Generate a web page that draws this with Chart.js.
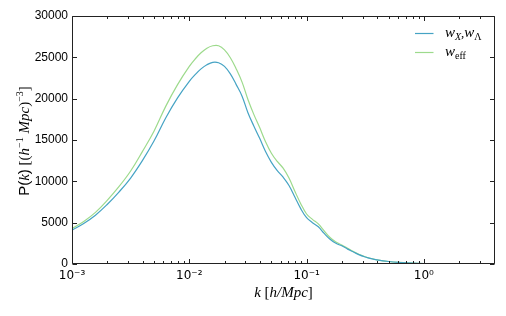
<!DOCTYPE html>
<html>
<head>
<meta charset="utf-8">
<script src="https://cdn.jsdelivr.net/npm/chart.js@4.4.1/dist/chart.umd.min.js"></script>
<style>
  html, body { margin: 0; padding: 0; background: #fff; }
  #c { display: block; }
</style>
</head>
<body>
<canvas id="c" width="506" height="316"></canvas>
<script>
// ---- data ----
const kValues = [0.001, 0.001259, 0.001585, 0.001995, 0.002512, 0.003162, 0.003981, 0.005012, 0.00631, 0.007943,
  0.01, 0.01122, 0.01259, 0.01413, 0.01585, 0.01778, 0.01995, 0.02239, 0.02512, 0.02818, 0.03162, 0.03548, 0.03981,
  0.04467, 0.05012, 0.05623, 0.0631, 0.07079, 0.07943, 0.08913,
  0.1, 0.1122, 0.1259, 0.1413, 0.1585, 0.1778, 0.1995, 0.2239, 0.2512, 0.2818, 0.3162, 0.3548, 0.3981,
  0.5012, 0.631, 0.7943, 1.0, 1.259, 1.585, 1.995, 2.512, 3.162, 3.981];
const pkWxWl = [4100, 4900, 5900, 7200, 8700, 10400, 12500, 14900, 17700, 20100,
  22100, 22900, 23600, 24100, 24400, 24350, 23900, 23000, 21700, 20300, 18300, 16700, 15200,
  13600, 12300, 11300, 10500, 9500, 8100, 6700,
  5600, 5000, 4500, 3700, 3000, 2500, 2200, 1800, 1450, 1100, 850, 650, 500,
  300, 180, 100, 50, 25, 12, 6, 3, 2, 1];
const pkWeff = [4300, 5150, 6250, 7700, 9350, 11250, 13600, 16100, 19100, 21700,
  23900, 24800, 25550, 26100, 26400, 26400, 25900, 24950, 23600, 22000, 19900, 18100, 16500,
  14800, 13400, 12400, 11600, 10400, 8800, 7300,
  6050, 5400, 4850, 4000, 3200, 2650, 2300, 1900, 1500, 1150, 880, 670, 510,
  305, 185, 100, 50, 25, 12, 6, 3, 2, 1];
const seriesLabels = ['w_X,w_Λ', 'w_eff'];
const xTickValues = [0.001, 0.01, 0.1, 1];
const xTickLabels = ['10⁻³', '10⁻²', '10⁻¹', '10⁰'];
const yTickValues = [0, 5000, 10000, 15000, 20000, 25000, 30000];
const xTitle = 'k [h/Mpc]';
const yTitle = 'P(k) [(h⁻¹ Mpc)⁻³]';
// pieces of the titles with their math styling: [text, style]
const xTitleParts = [['k', 'it'], [' [', 'rm'], ['h/Mpc', 'it'], [']', 'rm']];
const yTitleParts = [['P(', 'sf'], ['k', 'it'], [')', 'sf'], [' [(', 'rm'], ['h', 'it'], ['−1', 'sup'],
  [' ', 'rm'], ['Mpc', 'it'], [')', 'rm'], ['−3', 'sup'], [']', 'rm']];

const colors = ['#45a3c4', '#9dda8c'];

function pts(ys) { return kValues.map((k, i) => ({ x: k, y: ys[i] })); }

const FONTS = {
  it: 'italic 15px "Liberation Serif"',
  rm: '15px "Liberation Serif"',
  sf: '15px "Liberation Sans"',
  sup: '10px "Liberation Serif"'
};
function partsWidth(ctx, parts) {
  let w = 0;
  parts.forEach(([t, s]) => { ctx.font = FONTS[s]; w += ctx.measureText(t).width; });
  return w;
}
function drawParts(ctx, parts, cx, cy) {
  const w = partsWidth(ctx, parts);
  let x = cx - w / 2;
  const base = cy + 5;
  ctx.textBaseline = 'alphabetic';
  ctx.textAlign = 'left';
  parts.forEach(([t, s]) => {
    ctx.font = FONTS[s];
    ctx.fillText(t, x, s === 'sup' ? base - 6 : base);
    x += ctx.measureText(t).width;
  });
}

// frame + inward ticks on all sides, axis titles
const frameTicks = {
  id: 'frameTicks',
  afterDatasetsDraw(chart) {
    const { ctx, chartArea: a, scales: { x, y } } = chart;
    ctx.save();
    ctx.strokeStyle = '#222';
    ctx.lineWidth = 1;
    const L = Math.round(a.left) + 0.5, R = Math.round(a.right) - 0.5;
    const T = Math.round(a.top) + 0.5, B = Math.round(a.bottom) - 0.5;
    ctx.beginPath();
    ctx.rect(L, T, R - L, B - T);
    ctx.stroke();
    ctx.beginPath();
    xTickValues.forEach(d => {
      for (let m = 1; m <= 9; m++) {
        const v = d * m;
        if (v > x.max * 1.0001 || v < x.min * 0.9999) continue;
        const px = Math.round(x.getPixelForValue(v)) + 0.5;
        const len = m === 1 ? 4.5 : 2.5;
        ctx.moveTo(px, B); ctx.lineTo(px, B - len);
        ctx.moveTo(px, T); ctx.lineTo(px, T + len);
      }
    });
    yTickValues.forEach(v => {
      const py = Math.round(y.getPixelForValue(v)) + 0.5;
      ctx.moveTo(L, py); ctx.lineTo(L + 4.5, py);
      ctx.moveTo(R, py); ctx.lineTo(R - 4.5, py);
    });
    ctx.stroke();

    // axis titles
    ctx.fillStyle = '#000';
    drawParts(ctx, xTitleParts, (a.left + a.right) / 2, 292);
    ctx.save();
    ctx.translate(24, (a.top + a.bottom) / 2 + 1);
    ctx.rotate(-Math.PI / 2);
    drawParts(ctx, yTitleParts, 0, 0);
    ctx.restore();
    ctx.restore();
  }
};

// legend drawn inside the plot, upper right, with subscripts
const mathLegend = {
  id: 'mathLegend',
  afterDraw(chart) {
    const { ctx } = chart;
    ctx.save();
    chart.data.datasets.forEach((ds, i) => {
      const yLine = 33.5 + i * 19;
      ctx.strokeStyle = ds.borderColor;
      ctx.lineWidth = 1.2;
      ctx.beginPath();
      ctx.moveTo(415, yLine); ctx.lineTo(433.5, yLine);
      ctx.stroke();
      let xPos = 445;
      const base = yLine + 3.5;
      ctx.fillStyle = '#000';
      ctx.textBaseline = 'alphabetic';
      ds.label.split(',').forEach((part, j) => {
        if (j > 0) {
          ctx.font = '13px "Liberation Serif"';
          ctx.fillText(',', xPos, base);
          xPos += ctx.measureText(',').width;
        }
        const [b, s] = part.split('_');
        ctx.font = 'italic 15px "Liberation Serif"';
        ctx.fillText(b, xPos, base);
        xPos += ctx.measureText(b).width;
        if (s) {
          ctx.font = (s === 'X' ? 'italic ' : '') + '10px "Liberation Serif"';
          ctx.fillText(s, xPos, base + 3);
          xPos += ctx.measureText(s).width;
        }
      });
    });
    ctx.restore();
  }
};

new Chart(document.getElementById('c'), {
  type: 'line',
  data: {
    datasets: [
      { label: seriesLabels[0], data: pts(pkWxWl), borderColor: colors[0], backgroundColor: colors[0],
        borderWidth: 1.2, pointRadius: 0, tension: 0.4, fill: false },
      { label: seriesLabels[1], data: pts(pkWeff), borderColor: colors[1], backgroundColor: colors[1],
        borderWidth: 1.2, pointRadius: 0, tension: 0.4, fill: false }
    ]
  },
  options: {
    responsive: false,
    animation: false,
    devicePixelRatio: 1,
    layout: { padding: { top: 16, right: 11, left: 0, bottom: 0 } },
    plugins: { legend: { display: false }, tooltip: { enabled: false } },
    scales: {
      x: {
        type: 'logarithmic',
        min: 0.001,
        max: 4.04,
        grid: { display: false, drawTicks: false },
        border: { display: false },
        afterBuildTicks: s => { s.ticks = xTickValues.map(v => ({ value: v })); },
        afterFit: s => { s.height = 52; },
        ticks: {
          autoSkip: false, maxRotation: 0, padding: 5, color: '#000',
          font: { family: '"DejaVu Sans"', size: 12 },
          callback: v => { const i = xTickValues.indexOf(v); return i >= 0 ? xTickLabels[i] : ''; }
        },
        title: { display: false, text: xTitle }
      },
      y: {
        min: 0,
        max: 30000,
        grid: { display: false, drawTicks: false },
        border: { display: false },
        afterBuildTicks: s => { s.ticks = yTickValues.map(v => ({ value: v })); },
        afterFit: s => { s.width = 72; },
        ticks: {
          padding: 4, color: '#000',
          font: { family: '"Liberation Sans"', size: 12 },
          callback: v => String(v)
        },
        title: { display: false, text: yTitle }
      }
    }
  },
  plugins: [frameTicks, mathLegend]
});
</script>
</body>
</html>
